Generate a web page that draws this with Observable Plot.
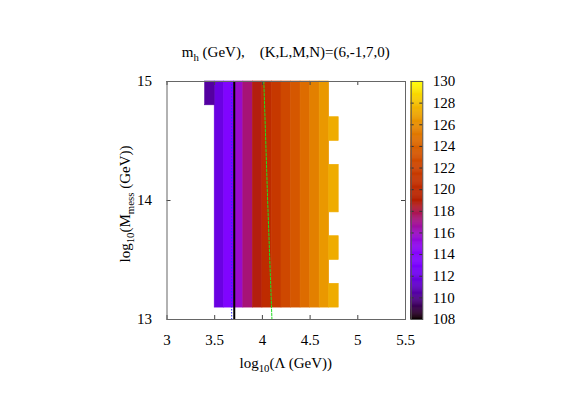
<!DOCTYPE html>
<html><head><meta charset="utf-8">
<script src="https://cdn.jsdelivr.net/npm/d3@7"></script>
<script src="https://cdn.jsdelivr.net/npm/@observablehq/plot@0.6"></script>
<style>
body{margin:0;background:#fff;}
#wrap{position:relative;width:572px;height:401px;overflow:hidden;}
#wrap > svg{position:absolute;top:0;}
</style></head><body><div id="wrap"></div>
<script>
// ---- data ----
const xTicks = [3, 3.5, 4, 4.5, 5, 5.5];
const yTicks = [13, 14, 15];
const cbTicks = [108, 110, 112, 114, 116, 118, 120, 122, 124, 126, 128, 130];
// main block columns (left edge, width 0.1) spanning log10(Mmess) 13.1 .. 15
const colLeft  = [3.5, 3.6, 3.7, 3.8, 3.9, 4.0, 4.1, 4.2, 4.3, 4.4, 4.5, 4.6];
const colMh    = [111.8, 113.5, 115.8, 117.3, 118.8, 120.2, 121.3, 122.4, 123.4, 124.5, 125.5, 126.5];
const blockBottom = 13.1, blockTop = 15.0;
// extra cells at Lambda 4.7..4.8
const edgeLow  = [13.1, 13.5, 13.9, 14.5];
const edgeHigh = [13.3, 13.7, 14.3, 14.7];
const edgeMh   = 127.3;
// corner cell at Lambda 3.4..3.5
const cornerLow = 14.8, cornerHigh = 15.0, cornerMh = 110.4;
// curves
const blackX = 3.705;
const blueX = 3.678;
const greenX = [4.015, 4.055, 4.10];
const greenY = [15, 14, 13];

// ---- build ----
const cells = [];
colLeft.forEach((x, i) => cells.push({x1: x, x2: x + 0.1, y1: blockBottom, y2: blockTop, v: colMh[i]}));
edgeLow.forEach((y, i) => cells.push({x1: 4.7, x2: 4.8, y1: y, y2: edgeHigh[i], v: edgeMh}));
cells.push({x1: 3.4, x2: 3.5, y1: cornerLow, y2: cornerHigh, v: cornerMh});
const green = greenX.map((x, i) => ({x, y: greenY[i]}));

const gp = t => d3.rgb(255 * Math.sqrt(t), 255 * t * t * t, 255 * Math.max(0, Math.sin(2 * Math.PI * t))).toString();
const colorOpts = {type: "linear", domain: [108, 130], interpolate: gp, clamp: true};
const font = "'Liberation Serif', 'DejaVu Serif', serif";
const FS = 15;
const fmt = d3.format("");

const W = 572, H = 401, mL = 166.5, mR = 167, mT = 81, mB = 82;
const fw = W - mL - mR, fh = H - mT - mB, tk = 4;

const main = Plot.plot({
  width: W, height: H, marginLeft: mL, marginRight: mR, marginTop: mT, marginBottom: mB,
  x: {domain: [3, 5.5], label: null},
  y: {domain: [13, 15], label: null},
  color: colorOpts,
  style: {fontFamily: font, fontSize: FS + "px", background: "transparent", color: "black"},
  marks: [
    Plot.rect(cells, {x1: "x1", x2: "x2", y1: "y1", y2: "y2", fill: "v", stroke: "v", strokeWidth: 0.6}),
    Plot.ruleX([blueX], {y1: 15, y2: 13, stroke: "#2a2aff", strokeWidth: 1, strokeDasharray: "1.5,1.5"}),
    Plot.ruleX([blackX], {y1: 15, y2: 13, stroke: "black", strokeWidth: 2}),
    Plot.line(green, {x: "x", y: "y", stroke: "#22dd22", strokeWidth: 1, strokeDasharray: "2.5,1.5"}),
    Plot.ruleX(xTicks, {y1: 15, y2: 13, insetTop: fh - tk, stroke: "#444"}),
    Plot.ruleX(xTicks, {y1: 15, y2: 13, insetBottom: fh - tk, stroke: "#444"}),
    Plot.ruleY(yTicks, {x1: 3, x2: 5.5, insetRight: fw - tk, stroke: "#444"}),
    Plot.ruleY(yTicks, {x1: 3, x2: 5.5, insetLeft: fw - tk, stroke: "#444"}),
    Plot.frame({stroke: "#666", strokeWidth: 1}),
    Plot.axisX(xTicks, {anchor: "bottom", tickSize: 0, tickPadding: 15, label: null, tickFormat: fmt, fontSize: FS}),
    Plot.axisY(yTicks, {anchor: "left", tickSize: 0, tickPadding: 15, label: null, tickFormat: fmt, fontSize: FS})
  ]
});
main.style.left = "0px";

// colour bar
const cbLeft = 410.7, cbRight = 422.3, cbW = 80, cbX0 = 400;
const cbSteps = d3.range(108, 130, 0.1);
const cb = Plot.plot({
  width: cbW, height: H, marginLeft: cbLeft - cbX0, marginRight: cbW - (cbRight - cbX0), marginTop: mT, marginBottom: mB,
  x: {domain: [0, 1], axis: null},
  y: {domain: [108, 130], label: null},
  color: colorOpts,
  style: {fontFamily: font, fontSize: FS + "px", background: "transparent", color: "black"},
  marks: [
    Plot.rect(cbSteps, {x1: 0, x2: 1, y1: d => d, y2: d => d + 0.1, fill: d => d + 0.05, stroke: d => d + 0.05, strokeWidth: 0.5}),
    Plot.ruleY(cbTicks, {x1: 0, x2: 1, insetRight: (cbRight - cbLeft) - 3, stroke: "#333"}),
    Plot.ruleY(cbTicks, {x1: 0, x2: 1, insetLeft: (cbRight - cbLeft) - 3, stroke: "#333"}),
    Plot.frame({stroke: "#555", strokeWidth: 1}),
    Plot.axisY(cbTicks, {anchor: "right", tickSize: 0, tickPadding: 10, label: null, tickFormat: fmt, fontSize: FS})
  ]
});
cb.style.left = cbX0 + "px";

const wrap = document.getElementById("wrap");
wrap.appendChild(main);
wrap.appendChild(cb);

// texts with subscripts
const svg = d3.select(main);
const cx = mL + fw / 2;
function subText(g, parts) {
  let last = false;
  parts.forEach(([s, sub]) => {
    const t = g.append("tspan").text(s);
    if (sub) t.attr("font-size", FS * 0.72).attr("dy", last ? 0 : 4);
    else t.attr("dy", last ? -4 : 0);
    last = !!sub;
  });
}
const title = svg.append("text").attr("x", cx).attr("y", 57).attr("text-anchor", "middle")
  .attr("font-family", font).attr("font-size", FS).style("white-space", "pre");
subText(title, [["m", false], ["h", true], [" (GeV),    (K,L,M,N)=(6,-1,7,0)", false]]);

const xl = svg.append("text").attr("x", cx).attr("y", 368).attr("text-anchor", "middle")
  .attr("font-family", font).attr("font-size", FS).style("white-space", "pre");
subText(xl, [["log", false], ["10", true], ["(Λ (GeV))", false]]);

const yl = svg.append("text").attr("transform", `translate(130,204) rotate(-90)`).attr("text-anchor", "middle")
  .attr("font-family", font).attr("font-size", FS).style("white-space", "pre");
subText(yl, [["log", false], ["10", true], ["(M", false], ["mess", true], [" (GeV))", false]]);
</script>
</body></html>
